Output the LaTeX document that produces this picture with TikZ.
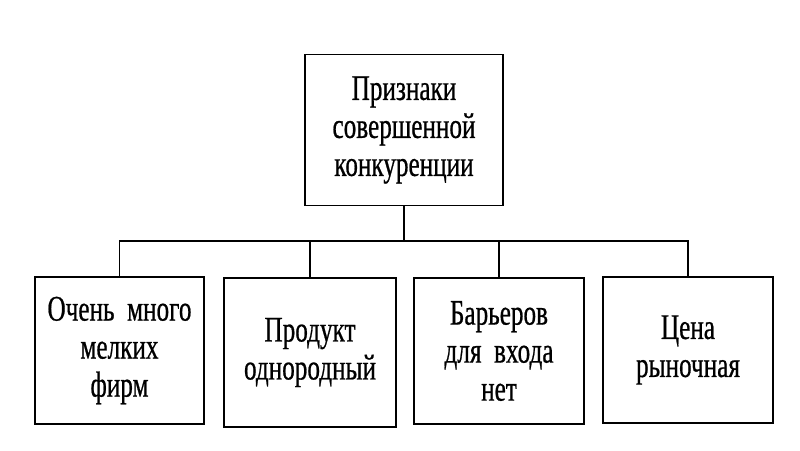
\documentclass[tikz,border=0pt]{standalone}
\usepackage{fontspec}
\newfontfamily\cyrserif[FakeStretch=0.7,FakeBold=0.6]{Liberation Serif}
\begin{document}
\begin{tikzpicture}[x=1pt,y=-1pt,
  box/.style={draw=black,line width=1.7pt,rectangle,inner sep=0pt,align=center,
    font=\cyrserif\fontsize{36}{38}\selectfont},
  conn/.style={draw=black,line width=1.6pt}]
\fill[white] (0,0) rectangle (800,450);
\useasboundingbox (0,0) rectangle (800,450);
\node[box,minimum width=198pt,minimum height=151pt] (top) at (404,130) {Признаки\\совершенной\\конкуренции};
\node[box,minimum width=169pt,minimum height=147pt] (b1) at (119.5,350.5) {Очень\ \ много\\мелких\\фирм};
\node[box,minimum width=172pt,minimum height=149pt] (b2) at (310,352.5) {Продукт\\однородный};
\node[box,minimum width=170pt,minimum height=146pt] (b3) at (499,351) {Барьеров\\для\ \ входа\\нет};
\node[box,minimum width=170pt,minimum height=146pt] (b4) at (688,350) {Цена\\рыночная};
\coordinate (bus) at (0,241);
\draw[conn] (top.south) -- (top.south |- bus);
\draw[conn] (b1.north) -- (b1.north |- bus) -- (b4.north |- bus) -- (b4.north);
\draw[conn] (b2.north) -- (b2.north |- bus);
\draw[conn] (b3.north) -- (b3.north |- bus);
\end{tikzpicture}
\end{document}
